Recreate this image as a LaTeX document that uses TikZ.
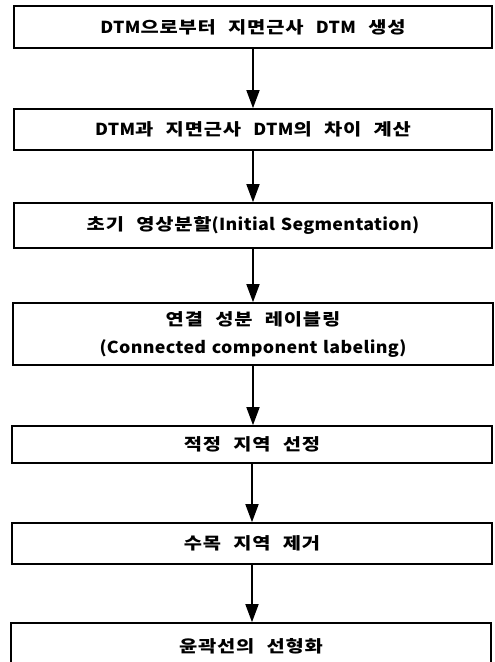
\documentclass[tikz,border=0pt]{standalone}
\usepackage{fontspec}
\newfontfamily\kr[FakeStretch=1.2,LetterSpace=5,WordSpace=2.3]{Noto Sans CJK KR}
\newfontfamily\lat[FakeStretch=1.08,LetterSpace=2,WordSpace=1.3]{Noto Sans CJK KR}
\usetikzlibrary{arrows.meta}
\tikzset{
  stepbox/.style={draw=black, line width=1.6pt, rectangle, inner sep=0pt, align=center,
    font=\kr\bfseries\fontsize{16.5}{28}\selectfont},
  arr/.style={line width=1.5pt, -{Triangle[width=13pt,length=18pt]}}
}
\newcommand{\la}[1]{{\lat\bfseries #1}}
\begin{document}
\begin{tikzpicture}[x=1pt,y=-1pt]
\useasboundingbox (0,0) rectangle (495,662);
\clip (0,0) rectangle (495,662);
\node[stepbox, minimum width=478pt, minimum height=42pt] (b1) at (253,27) {\la{DTM}으로부터 지면근사 \la{DTM} 생성};
\node[stepbox, minimum width=478pt, minimum height=41pt] (b2) at (253,129.5) {\la{DTM}과 지면근사 \la{DTM}의 차이 계산};
\node[stepbox, minimum width=478pt, minimum height=45pt] (b3) at (253,225.5) {초기 영상분할\la{(Initial Segmentation)}};
\node[stepbox, minimum width=480pt, minimum height=62pt] (b4) at (253,334) {연결 성분 레이블링\\\la{(Connected component labeling)}};
\node[stepbox, minimum width=480pt, minimum height=37pt] (b5) at (252,444.5) {적정 지역 선정};
\node[stepbox, minimum width=480pt, minimum height=41pt] (b6) at (252,543.5) {수목 지역 제거};
\node[stepbox, minimum width=480pt, minimum height=46pt] (b7) at (251,646) {윤곽선의 선형화};
\draw[arr] (b1.south) -- (b1.south |- b2.north);
\draw[arr] (b2.south) -- (b2.south |- b3.north);
\draw[arr] (b3.south) -- (b3.south |- b4.north);
\draw[arr] (b4.south) -- (b4.south |- b5.north);
\draw[arr] (b5.south) -- (b5.south |- b6.north);
\draw[arr] (b6.south) -- (b6.south |- b7.north);
\end{tikzpicture}
\end{document}
